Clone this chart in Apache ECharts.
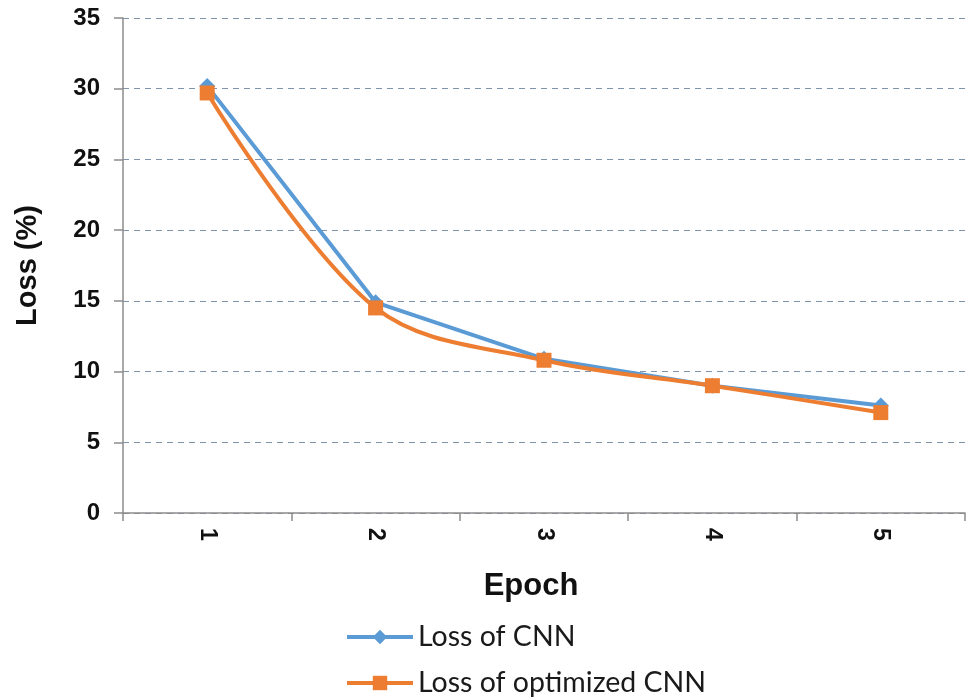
<!DOCTYPE html>
<html>
<head>
<meta charset="utf-8">
<script src="https://cdn.jsdelivr.net/npm/echarts@6/dist/echarts.min.js"></script>
<style>
  html, body { margin: 0; padding: 0; background: #fff; }
  #chart { width: 968px; height: 699px; }
</style>
</head>
<body>
<div id="chart"></div>
<script>
// Training loss per epoch
const epochs = ['1', '2', '3', '4', '5'];
const lossCNN = [30.2, 14.9, 10.9, 9.0, 7.6];
const lossOptimizedCNN = [29.7, 14.5, 10.8, 9.0, 7.1];
const yTicks = [0, 5, 10, 15, 20, 25, 30, 35];

const axisFont = '"Liberation Sans", Arial, sans-serif';
const chart = echarts.init(document.getElementById('chart'));

chart.setOption({
  backgroundColor: '#ffffff',
  animation: false,
  grid: { left: 123, right: 3, top: 18, bottom: 186, containLabel: false },
  legend: {
    orient: 'vertical',
    left: 345,
    top: 622,
    padding: 0,
    itemGap: 16,
    itemWidth: 66,
    itemHeight: 18,
    lineStyle: { width: 4 },
    textStyle: { fontFamily: 'Lato, "Open Sans", sans-serif', fontSize: 28.5, lineHeight: 30, color: '#1a1a1a' },
    data: ['Loss of CNN', 'Loss of optimized CNN']
  },
  xAxis: {
    type: 'category',
    data: epochs,
    boundaryGap: true,
    name: 'Epoch',
    nameLocation: 'middle',
    nameGap: 58,
    nameTextStyle: { fontFamily: axisFont, fontWeight: 'bold', fontSize: 31, color: '#111', padding: [0, 26, 0, 0] },
    axisLine: { lineStyle: { color: '#8c8c8c', width: 1.5 } },
    axisTick: { show: true, alignWithLabel: false, length: 8, lineStyle: { color: '#8c8c8c', width: 1.5 } },
    axisLabel: { rotate: -90, margin: 15, fontFamily: axisFont, fontWeight: 'bold', fontSize: 23, color: '#111' }
  },
  yAxis: {
    type: 'value',
    min: yTicks[0],
    max: yTicks[yTicks.length - 1],
    interval: 5,
    name: 'Loss (%)',
    nameLocation: 'middle',
    nameGap: 81,
    nameRotate: 90,
    nameTextStyle: { fontFamily: axisFont, fontWeight: 'bold', fontSize: 29, color: '#111' },
    axisLine: { show: true, lineStyle: { color: '#8c8c8c', width: 1.5 } },
    axisTick: { show: true, inside: false, length: 9, lineStyle: { color: '#8c8c8c', width: 1.5 } },
    axisLabel: { margin: 23, fontFamily: axisFont, fontWeight: 'bold', fontSize: 24, color: '#111' },
    splitLine: { show: true, lineStyle: { color: '#7f93ad', type: [6, 5], width: 1.2 } }
  },
  series: [
    {
      name: 'Loss of CNN',
      type: 'line',
      data: lossCNN,
      smooth: false,
      symbol: 'diamond',
      symbolSize: 16,
      color: '#5b9bd5',
      lineStyle: { width: 4, color: '#5b9bd5' },
      itemStyle: { color: '#5b9bd5' }
    },
    {
      name: 'Loss of optimized CNN',
      type: 'line',
      data: lossOptimizedCNN,
      smooth: 0.35,
      symbol: 'rect',
      symbolSize: 15,
      color: '#ed7d31',
      lineStyle: { width: 4, color: '#ed7d31' },
      itemStyle: { color: '#ed7d31' }
    }
  ]
});
</script>
</body>
</html>
